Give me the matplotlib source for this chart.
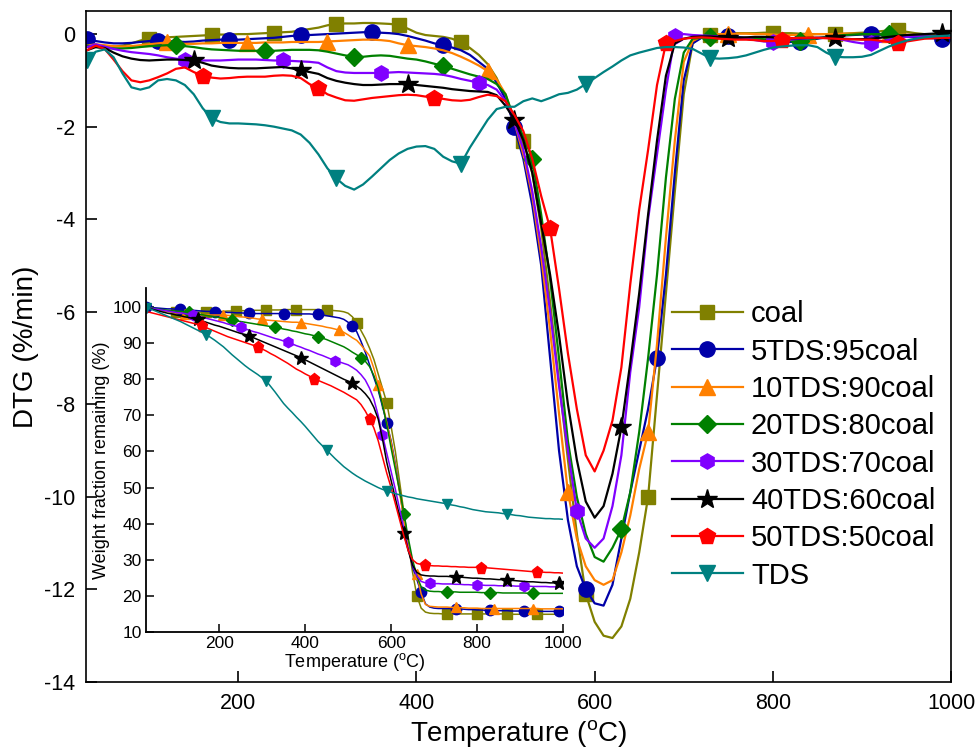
import matplotlib
matplotlib.use("Agg")
import matplotlib.pyplot as plt

plt.rcParams['font.family'] = ['Liberation Sans', 'DejaVu Sans']
plt.rcParams['mathtext.fontset'] = 'custom'
plt.rcParams['mathtext.rm'] = 'Liberation Sans'
plt.rcParams['axes.unicode_minus'] = False

# temperature grid (degC), one reading every 10 degrees
temp = list(range(30, 1001, 10))

labels = ['coal', '5TDS:95coal', '10TDS:90coal', '20TDS:80coal',
          '30TDS:70coal', '40TDS:60coal', '50TDS:50coal', 'TDS']

# DTG (%/min), main plot
dtg_coal = [-0.20, -0.23, -0.26, -0.27, -0.25, -0.20, -0.14, -0.10, -0.08, -0.07,
            -0.06, -0.05, -0.04, -0.03, -0.02, -0.01, -0.01, 0.00, 0.00, 0.01,
            0.02, 0.03, 0.04, 0.05, 0.08, 0.11, 0.14, 0.19, 0.22, 0.23,
            0.23, 0.24, 0.24, 0.23, 0.22, 0.20, 0.12, 0.03, -0.02, -0.04,
            -0.06, -0.10, -0.18, -0.30, -0.45, -0.65, -0.95, -1.40, -1.90, -2.30,
            -3.00, -4.20, -5.80, -7.50, -9.20, -10.80, -12.10, -12.70, -13.00, -13.05,
            -12.80, -12.20, -11.20, -10.00, -7.80, -5.60, -3.40, -1.30, -0.20, -0.05,
            -0.02, 0.00, 0.02, 0.02, 0.02, 0.02, 0.03, 0.03, 0.02, 0.02,
            0.01, 0.00, 0.00, 0.00, 0.00, 0.01, 0.02, 0.03, 0.04, 0.06,
            0.08, 0.08, 0.05, 0.02, 0.00, -0.02, -0.04, -0.05]
dtg_5tds = [-0.10, -0.15, -0.18, -0.20, -0.20, -0.19, -0.17, -0.15, -0.14, -0.15,
            -0.16, -0.17, -0.16, -0.14, -0.13, -0.12, -0.12, -0.12, -0.11, -0.10,
            -0.09, -0.08, -0.06, -0.04, -0.03, -0.02, -0.01, 0.00, 0.01, 0.02,
            0.03, 0.04, 0.04, 0.03, 0.02, 0.00, -0.04, -0.09, -0.14, -0.20,
            -0.24, -0.29, -0.35, -0.45, -0.60, -0.75, -1.05, -1.40, -2.00, -2.70,
            -3.70, -5.00, -7.00, -9.00, -10.50, -11.50, -12.00, -12.30, -12.35, -11.90,
            -10.90, -9.90, -9.00, -8.10, -7.00, -5.20, -3.00, -1.00, -0.20, -0.08,
            -0.06, -0.05, -0.05, -0.06, -0.08, -0.10, -0.13, -0.15, -0.16, -0.17,
            -0.17, -0.14, -0.10, -0.07, -0.05, -0.03, -0.02, -0.01, 0.00, -0.02,
            -0.04, -0.05, -0.06, -0.07, -0.08, -0.09, -0.10, -0.10]
dtg_10tds = [-0.25, -0.22, -0.24, -0.26, -0.27, -0.26, -0.24, -0.22, -0.20, -0.18,
             -0.20, -0.21, -0.21, -0.20, -0.20, -0.19, -0.19, -0.19, -0.19, -0.19,
             -0.18, -0.18, -0.18, -0.17, -0.17, -0.17, -0.17, -0.16, -0.15, -0.14,
             -0.13, -0.12, -0.12, -0.13, -0.15, -0.20, -0.24, -0.26, -0.28, -0.31,
             -0.35, -0.41, -0.49, -0.58, -0.68, -0.80, -0.98, -1.30, -1.90, -2.60,
             -3.50, -4.80, -6.40, -8.20, -9.90, -10.90, -11.50, -11.80, -11.90, -11.80,
             -11.20, -10.40, -9.40, -8.60, -6.70, -4.40, -2.30, -0.60, -0.15, -0.05,
             -0.02, 0.00, 0.00, 0.01, 0.01, 0.00, 0.00, -0.01, -0.02, -0.02,
             -0.02, -0.01, 0.00, 0.00, 0.00, 0.01, 0.01, 0.00, 0.00, 0.00,
             0.00, 0.00, -0.01, -0.02, -0.03, -0.04, -0.05, -0.05]
dtg_20tds = [-0.25, -0.28, -0.30, -0.31, -0.31, -0.30, -0.28, -0.26, -0.25, -0.24,
             -0.24, -0.26, -0.28, -0.31, -0.33, -0.34, -0.35, -0.36, -0.36, -0.36,
             -0.36, -0.36, -0.35, -0.34, -0.34, -0.34, -0.35, -0.38, -0.42, -0.46,
             -0.49, -0.49, -0.47, -0.46, -0.47, -0.50, -0.53, -0.55, -0.59, -0.64,
             -0.69, -0.75, -0.81, -0.87, -0.92, -0.97, -1.08, -1.30, -1.85, -2.20,
             -2.70, -3.90, -5.30, -7.00, -8.80, -10.00, -10.80, -11.30, -11.40, -11.10,
             -10.70, -9.90, -8.60, -7.00, -5.20, -3.10, -1.40, -0.40, -0.10, -0.08,
             -0.06, -0.06, -0.07, -0.08, -0.09, -0.10, -0.11, -0.12, -0.13, -0.14,
             -0.14, -0.12, -0.09, -0.06, -0.04, -0.02, -0.01, 0.00, 0.00, 0.00,
             0.00, -0.01, -0.02, -0.03, -0.04, -0.05, -0.05, -0.05]
dtg_30tds = [-0.28, -0.22, -0.27, -0.32, -0.36, -0.39, -0.41, -0.43, -0.46, -0.50,
             -0.53, -0.55, -0.56, -0.57, -0.57, -0.57, -0.56, -0.55, -0.55, -0.55,
             -0.56, -0.57, -0.57, -0.58, -0.59, -0.60, -0.62, -0.72, -0.80, -0.83,
             -0.84, -0.84, -0.84, -0.84, -0.83, -0.82, -0.83, -0.84, -0.85, -0.86,
             -0.88, -0.92, -0.97, -1.01, -1.05, -1.10, -1.20, -1.45, -1.90, -2.50,
             -3.40, -4.60, -6.00, -7.60, -9.00, -10.30, -10.90, -11.10, -10.90, -10.20,
             -9.10, -7.30, -5.90, -4.00, -2.60, -1.20, -0.05, 0.00, -0.02, -0.03,
             -0.04, -0.05, -0.06, -0.08, -0.10, -0.13, -0.16, -0.17, -0.15, -0.12,
             -0.10, -0.09, -0.08, -0.08, -0.10, -0.13, -0.17, -0.20, -0.20, -0.17,
             -0.12, -0.08, -0.06, -0.05, -0.05, -0.05, -0.06, -0.06]
dtg_40tds = [-0.35, -0.28, -0.30, -0.40, -0.48, -0.53, -0.56, -0.57, -0.56, -0.55,
             -0.55, -0.56, -0.57, -0.62, -0.68, -0.71, -0.73, -0.74, -0.74, -0.74,
             -0.73, -0.72, -0.71, -0.74, -0.78, -0.82, -0.86, -0.95, -1.01, -1.05,
             -1.08, -1.10, -1.10, -1.09, -1.08, -1.08, -1.08, -1.10, -1.12, -1.14,
             -1.16, -1.19, -1.21, -1.23, -1.24, -1.25, -1.32, -1.55, -1.85, -2.30,
             -3.00, -4.10, -5.20, -6.50, -8.00, -9.20, -10.10, -10.45, -10.20, -9.50,
             -8.50, -7.10, -5.60, -3.90, -2.30, -0.90, -0.20, -0.10, -0.06, -0.05,
             -0.05, -0.06, -0.08, -0.08, -0.07, -0.06, -0.06, -0.07, -0.08, -0.09,
             -0.09, -0.08, -0.08, -0.08, -0.09, -0.10, -0.11, -0.11, -0.10, -0.08,
             -0.06, -0.04, -0.02, -0.01, 0.00, 0.01, 0.02, 0.01]
dtg_50tds = [-0.35, -0.25, -0.32, -0.55, -0.80, -1.00, -1.04, -1.00, -0.93, -0.85,
             -0.75, -0.72, -0.82, -0.90, -0.94, -0.96, -0.95, -0.93, -0.92, -0.92,
             -0.92, -0.90, -0.89, -0.90, -0.95, -1.08, -1.17, -1.30, -1.37, -1.43,
             -1.44, -1.41, -1.38, -1.36, -1.34, -1.32, -1.31, -1.32, -1.35, -1.37,
             -1.40, -1.43, -1.44, -1.42, -1.36, -1.31, -1.34, -1.45, -1.75, -2.10,
             -2.70, -3.50, -4.20, -5.50, -6.90, -8.10, -9.10, -9.45, -9.00, -8.35,
             -7.20, -5.40, -3.80, -2.50, -1.10, -0.20, -0.15, -0.10, -0.08, -0.07,
             -0.08, -0.10, -0.11, -0.12, -0.12, -0.13, -0.15, -0.15, -0.12, -0.09,
             -0.08, -0.08, -0.08, -0.09, -0.10, -0.11, -0.11, -0.12, -0.12, -0.14,
             -0.17, -0.19, -0.16, -0.13, -0.10, -0.09, -0.08, -0.08]
dtg_tds = [-0.55, -0.38, -0.33, -0.50, -0.85, -1.15, -1.20, -1.15, -1.00, -0.97,
           -1.00, -1.10, -1.30, -1.60, -1.82, -1.90, -1.93, -1.93, -1.94, -1.95,
           -1.97, -2.00, -2.04, -2.08, -2.17, -2.35, -2.60, -2.90, -3.12, -3.28,
           -3.36, -3.25, -3.08, -2.90, -2.72, -2.58, -2.48, -2.43, -2.42, -2.48,
           -2.65, -2.75, -2.80, -2.45, -2.15, -1.85, -1.62, -1.57, -1.57, -1.45,
           -1.39, -1.45, -1.38, -1.30, -1.27, -1.20, -1.08, -0.95, -0.82, -0.70,
           -0.57, -0.46, -0.40, -0.35, -0.30, -0.28, -0.28, -0.29, -0.32, -0.42,
           -0.52, -0.53, -0.52, -0.50, -0.46, -0.40, -0.34, -0.29, -0.27, -0.25,
           -0.24, -0.24, -0.28, -0.40, -0.49, -0.50, -0.50, -0.49, -0.45, -0.36,
           -0.27, -0.20, -0.14, -0.10, -0.07, -0.05, -0.04, -0.03]

# weight fraction remaining (%), inset
tg_coal = [100.0, 99.8, 99.5, 99.2, 99.0, 98.8, 98.7, 98.6, 98.6, 98.6,
           98.6, 98.6, 98.6, 98.6, 98.6, 98.7, 98.7, 98.8, 98.8, 98.9,
           98.9, 99.0, 99.0, 99.0, 99.1, 99.1, 99.1, 99.1, 99.2, 99.2,
           99.2, 99.2, 99.3, 99.3, 99.3, 99.3, 99.3, 99.3, 99.3, 99.3,
           99.3, 99.2, 99.2, 99.1, 99.0, 98.9, 98.7, 98.3, 97.3, 95.7,
           93.5, 91.3, 88.6, 85.5, 81.5, 77.5, 73.5, 67.0, 60.0, 51.5,
           43.0, 34.5, 26.5, 20.0, 16.6, 15.5, 15.2, 15.1, 15.1, 15.0,
           15.0, 15.0, 15.0, 15.0, 15.0, 15.0, 15.0, 15.0, 15.0, 15.0,
           15.0, 15.0, 15.0, 15.0, 14.9, 14.9, 14.9, 14.9, 14.9, 14.9,
           14.9, 14.9, 14.9, 14.9, 14.9, 14.9, 14.9, 14.9]
tg_5tds = [100.0, 99.9, 99.8, 99.7, 99.6, 99.5, 99.5, 99.4, 99.4, 99.3,
           99.2, 99.1, 99.0, 98.9, 98.8, 98.8, 98.7, 98.6, 98.6, 98.5,
           98.5, 98.4, 98.4, 98.3, 98.3, 98.2, 98.2, 98.2, 98.2, 98.2,
           98.2, 98.2, 98.2, 98.2, 98.2, 98.1, 98.1, 98.1, 98.1, 98.0,
           98.0, 97.8, 97.6, 97.4, 97.2, 97.0, 96.6, 95.8, 94.8, 93.2,
           90.5, 87.5, 84.0, 80.5, 77.0, 72.5, 67.8, 63.0, 56.5, 49.0,
           41.0, 34.0, 28.0, 24.5, 21.0, 17.8, 16.9, 16.6, 16.5, 16.5,
           16.5, 16.5, 16.5, 16.4, 16.3, 16.2, 16.2, 16.1, 16.1, 16.0,
           16.0, 16.0, 15.9, 15.9, 15.9, 15.8, 15.8, 15.8, 15.8, 15.8,
           15.8, 15.8, 15.7, 15.7, 15.7, 15.7, 15.7, 15.7]
tg_10tds = [100.0, 99.7, 99.5, 99.2, 99.0, 98.8, 98.6, 98.4, 98.3, 98.2,
            98.1, 98.0, 98.0, 97.9, 97.9, 97.8, 97.8, 97.8, 97.8, 97.7,
            97.6, 97.5, 97.3, 97.2, 97.0, 96.9, 96.7, 96.6, 96.4, 96.3,
            96.2, 96.1, 96.0, 95.9, 95.8, 95.8, 95.7, 95.5, 95.3, 95.1,
            94.9, 94.7, 94.4, 94.2, 93.9, 93.6, 93.0, 92.3, 91.5, 90.8,
            89.5, 88.0, 86.5, 83.0, 78.5, 73.5, 68.0, 62.5, 56.0, 48.5,
            41.0, 34.0, 29.0, 26.0, 20.5, 17.6, 17.1, 17.0, 16.9, 16.9,
            16.9, 16.8, 16.8, 16.7, 16.7, 16.6, 16.6, 16.6, 16.5, 16.5,
            16.5, 16.5, 16.5, 16.5, 16.5, 16.5, 16.5, 16.5, 16.5, 16.5,
            16.5, 16.5, 16.4, 16.4, 16.4, 16.4, 16.4, 16.4]
tg_20tds = [100.0, 99.8, 99.6, 99.4, 99.3, 99.1, 99.0, 98.9, 98.8, 98.7,
            98.5, 98.3, 98.1, 97.9, 97.7, 97.5, 97.3, 97.1, 96.9, 96.6,
            96.4, 96.2, 96.0, 95.8, 95.6, 95.4, 95.2, 95.0, 94.8, 94.6,
            94.4, 94.2, 93.9, 93.7, 93.4, 93.2, 92.9, 92.6, 92.4, 92.1,
            91.8, 91.4, 91.0, 90.5, 90.0, 89.5, 89.0, 88.3, 87.5, 86.8,
            86.0, 85.0, 83.5, 81.0, 77.5, 73.0, 67.5, 61.0, 55.0, 49.0,
            42.8, 36.0, 30.0, 25.5, 22.5, 21.6, 21.3, 21.2, 21.2, 21.1,
            21.1, 21.1, 21.1, 21.0, 21.0, 21.0, 21.0, 21.0, 20.9, 20.9,
            20.9, 20.9, 20.9, 20.8, 20.8, 20.8, 20.8, 20.8, 20.8, 20.7,
            20.7, 20.7, 20.7, 20.7, 20.7, 20.7, 20.7, 20.7]
tg_30tds = [100.0, 99.7, 99.5, 99.3, 99.1, 98.9, 98.7, 98.5, 98.4, 98.2,
            98.0, 97.8, 97.5, 97.2, 96.9, 96.6, 96.3, 96.0, 95.7, 95.3,
            95.0, 94.7, 94.4, 94.0, 93.6, 93.2, 92.9, 92.5, 92.1, 91.7,
            91.3, 91.0, 90.6, 90.2, 89.8, 89.3, 88.9, 88.4, 88.0, 87.5,
            87.0, 86.6, 86.1, 85.6, 85.1, 84.8, 84.4, 84.0, 83.3, 82.5,
            81.3, 79.8, 77.5, 74.5, 70.0, 64.5, 59.5, 54.5, 49.5, 44.0,
            38.5, 33.0, 28.5, 25.5, 24.0, 23.6, 23.5, 23.4, 23.4, 23.3,
            23.3, 23.3, 23.2, 23.2, 23.1, 23.1, 23.0, 23.0, 23.0, 22.9,
            22.9, 22.9, 22.8, 22.8, 22.8, 22.8, 22.7, 22.7, 22.7, 22.7,
            22.6, 22.6, 22.6, 22.6, 22.5, 22.5, 22.5, 22.5]
tg_40tds = [100.0, 99.6, 99.2, 98.9, 98.6, 98.3, 98.1, 97.8, 97.6, 97.3,
            97.1, 96.8, 96.6, 96.2, 95.8, 95.4, 95.0, 94.7, 94.3, 93.9,
            93.5, 93.1, 92.7, 92.4, 92.0, 91.5, 91.0, 90.5, 90.0, 89.5,
            89.0, 88.5, 88.0, 87.5, 87.0, 86.5, 86.0, 85.4, 84.8, 84.2,
            83.6, 83.0, 82.4, 81.8, 81.2, 80.6, 80.0, 79.5, 78.9, 78.1,
            77.2, 76.0, 74.5, 72.2, 69.0, 63.5, 57.0, 52.0, 47.0, 42.0,
            37.3, 32.5, 28.5, 26.5, 25.8, 25.6, 25.5, 25.5, 25.4, 25.4,
            25.4, 25.3, 25.3, 25.2, 25.1, 25.0, 24.9, 24.9, 24.8, 24.7,
            24.7, 24.6, 24.5, 24.5, 24.4, 24.3, 24.2, 24.1, 24.0, 23.9,
            23.9, 23.8, 23.7, 23.7, 23.6, 23.6, 23.5, 23.5]
tg_50tds = [98.8, 98.5, 98.2, 97.9, 97.6, 97.3, 97.0, 96.7, 96.4, 96.1,
            95.8, 95.5, 95.2, 94.8, 94.3, 93.8, 93.3, 92.8, 92.3, 91.8,
            91.4, 91.0, 90.6, 90.2, 89.8, 89.4, 89.0, 88.4, 87.8, 87.1,
            86.5, 85.8, 85.1, 84.4, 83.6, 82.8, 82.2, 81.5, 80.9, 80.2,
            79.7, 79.2, 78.7, 78.2, 77.6, 77.0, 76.4, 75.7, 75.0, 74.3,
            73.0, 71.2, 69.0, 66.5, 63.0, 58.5, 54.0, 50.0, 45.5, 41.0,
            36.5, 32.5, 30.0, 29.0, 28.7, 28.5, 28.4, 28.3, 28.3, 28.2,
            28.2, 28.1, 28.1, 28.0, 28.0, 27.9, 27.9, 27.9, 27.8, 27.8,
            27.7, 27.6, 27.5, 27.4, 27.3, 27.2, 27.1, 27.0, 26.9, 26.8,
            26.7, 26.7, 26.6, 26.5, 26.5, 26.4, 26.4, 26.3]
tg_tds = [99.8, 99.5, 99.0, 98.5, 98.0, 97.5, 97.0, 96.5, 96.0, 95.4,
          94.8, 94.2, 93.6, 93.0, 92.4, 91.6, 90.8, 89.9, 89.0, 87.9,
          86.8, 85.8, 84.8, 83.8, 82.9, 82.1, 81.3, 80.4, 79.5, 78.0,
          76.5, 74.9, 73.3, 72.0, 70.8, 69.5, 68.3, 67.0, 65.6, 64.2,
          62.8, 61.6, 60.4, 59.2, 58.0, 56.9, 55.8, 54.9, 54.0, 53.2,
          52.5, 51.8, 51.2, 50.6, 50.0, 49.5, 49.1, 48.7, 48.3, 48.0,
          47.7, 47.4, 47.2, 46.9, 46.7, 46.5, 46.3, 46.1, 45.9, 45.7,
          45.5, 45.2, 45.0, 44.7, 44.5, 44.2, 43.9, 43.7, 43.5, 43.3,
          43.2, 43.1, 43.0, 42.8, 42.7, 42.5, 42.3, 42.2, 42.0, 41.8,
          41.7, 41.6, 41.5, 41.4, 41.4, 41.3, 41.3, 41.2]

dtg_all = [dtg_coal, dtg_5tds, dtg_10tds, dtg_20tds, dtg_30tds, dtg_40tds, dtg_50tds, dtg_tds]
tg_all = [tg_coal, tg_5tds, tg_10tds, tg_20tds, tg_30tds, tg_40tds, tg_50tds, tg_tds]

colors = ['#808000', '#0000A8', '#FF8000', '#008000', '#8000FF', '#000000', '#FF0000', '#008080']
markers = ['s', 'o', '^', 'D', 'h', '*', 'p', 'v']
msizes = [10, 11, 11, 9, 11, 15, 12, 11]
mevery = [(7, 7), (0, 8), (9, 9), (10, 10), (11, 11), (12, 12), (13, 13), (0, 14)]

fig = plt.figure(figsize=(9.78, 7.51), dpi=100)
ax = fig.add_axes([0.0879, 0.0919, 0.8845, 0.8935])

for i in range(8):
    ax.plot(temp, dtg_all[i], color=colors[i], lw=1.6, marker=markers[i],
            ms=msizes[i], markevery=mevery[i], mec=colors[i], label=labels[i])

ax.set_xlim(29, 1000)
ax.set_ylim(-14, 0.5)
ax.set_xticks([200, 400, 600, 800, 1000])
ax.set_yticks([0, -2, -4, -6, -8, -10, -12, -14])
ax.tick_params(direction='in', length=8, width=1.2, labelsize=15.5, pad=8)
for s in ax.spines.values():
    s.set_linewidth(1.2)
ax.set_xlabel(r'Temperature ($^{\rm o}$C)', fontsize=20, labelpad=3)
ax.set_ylabel('DTG (%/min)', fontsize=20, labelpad=3)

ax.legend(loc='upper left', bbox_to_anchor=(0.677, 0.569), frameon=False,
          fontsize=21, handlelength=2.45, handletextpad=0.27, labelspacing=0.32,
          borderpad=0, borderaxespad=0, numpoints=1)

# inset: TG curves
ins = fig.add_axes([0.1493, 0.1585, 0.4264, 0.4581])
ins.patch.set_alpha(0)
for i in range(8):
    ins.plot(temp, tg_all[i], color=colors[i], lw=1.1, marker=markers[i],
             ms=msizes[i] * 0.68, markevery=mevery[i], mec=colors[i])
ins.set_xlim(30, 1000)
ins.set_ylim(10, 105.3)
ins.set_xticks([200, 400, 600, 800, 1000])
ins.set_yticks(list(range(10, 101, 10)))
ins.spines['top'].set_visible(False)
ins.spines['right'].set_visible(False)
for s in ['left', 'bottom']:
    ins.spines[s].set_linewidth(1.3)
ins.tick_params(direction='in', length=6, width=1.1, labelsize=12.5, pad=3)
ins.set_xlabel(r'Temperature ($^{\rm o}$C)', fontsize=13, labelpad=0)
ins.set_ylabel('Weight fraction remaining (%)', fontsize=13, labelpad=2)

fig.savefig('out.png', dpi=100)
